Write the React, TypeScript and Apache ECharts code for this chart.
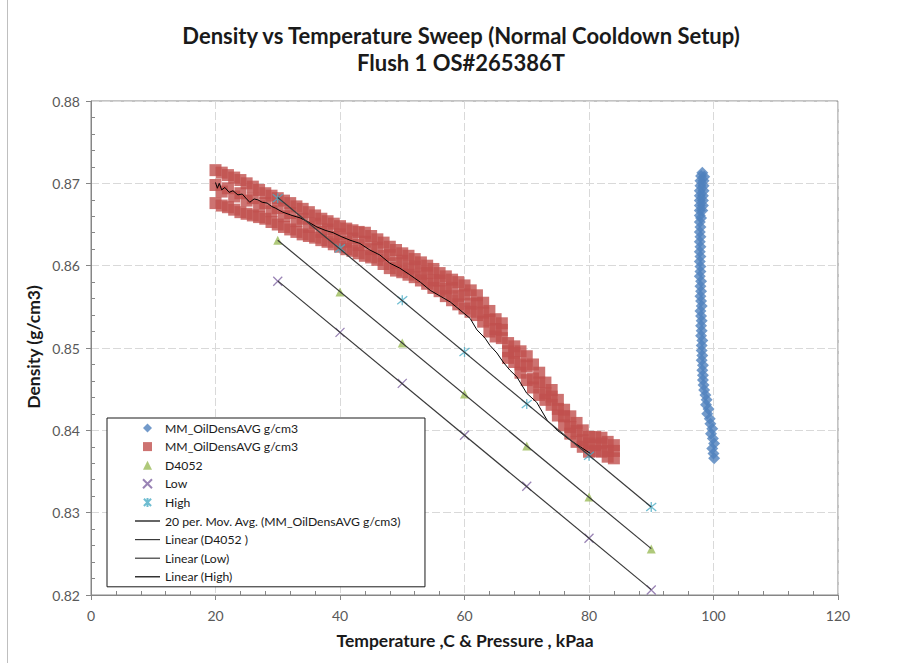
import React, { useEffect, useRef } from "react";
import * as echarts from "echarts";

// ---------- data ----------
const blueTemp = [98.2, 98.0, 98.5, 97.9, 98.4, 97.9, 98.4, 97.8, 98.4, 97.8, 98.3, 97.8, 98.3, 97.8, 98.3, 97.8, 98.2, 97.8, 98.0, 97.8,
  97.9, 97.8, 97.9, 97.8, 97.9, 97.8, 97.9, 97.8, 97.9, 97.9, 97.8, 98.0, 97.9, 98.0, 97.9, 98.0, 98.1, 97.9, 98.0, 98.1,
  98.0, 98.1, 98.0, 98.2, 98.1, 98.1, 98.2, 98.1, 98.3, 98.2, 98.3, 98.3, 98.4, 98.5, 98.7, 98.9, 98.8, 99.2, 99.0, 99.4,
  99.5, 99.8, 99.6, 99.9, 100.1, 99.8, 100.0, 100.1];
const blueDens = [0.8713, 0.8709, 0.8708, 0.8703, 0.8703, 0.8697, 0.8697, 0.8691, 0.8691, 0.8685, 0.8685, 0.8679, 0.8679, 0.8673, 0.8673, 0.8667, 0.8667, 0.8661, 0.8658, 0.8653,
  0.8647, 0.8641, 0.8635, 0.8629, 0.8623, 0.8617, 0.8611, 0.8605, 0.8599, 0.8593, 0.8587, 0.8581, 0.8575, 0.8569, 0.8563, 0.8557, 0.8551, 0.8545, 0.8539, 0.8533,
  0.8527, 0.8521, 0.8515, 0.8509, 0.8503, 0.8497, 0.8491, 0.8485, 0.8479, 0.8473, 0.8467, 0.8461, 0.8455, 0.8449, 0.8443, 0.8437, 0.8431, 0.8426, 0.8420, 0.8414,
  0.8408, 0.8402, 0.8396, 0.8390, 0.8384, 0.8378, 0.8372, 0.8366];

const redTemp = [20, 21, 22, 23, 24, 25, 26, 27, 28, 29, 30, 31, 32, 33, 34, 35, 36, 37, 38, 39, 40, 41, 42, 43, 44, 45, 46, 47, 48, 49, 50, 51, 52,
  53, 54, 55, 56, 57, 58, 59, 60, 61, 62, 63, 64, 65, 66, 67, 68, 69, 70, 71, 72, 73, 74, 75, 76, 77, 78, 79, 80, 81, 82, 83, 84];
const redTop = [0.8716, 0.8713, 0.8710, 0.8707, 0.8704, 0.8700, 0.8696, 0.8692, 0.8688, 0.8685, 0.8682, 0.8679, 0.8676, 0.8672, 0.8669, 0.8665, 0.8661,
  0.8657, 0.8654, 0.8651, 0.8648, 0.8645, 0.8643, 0.8641, 0.8640, 0.8636, 0.8632, 0.8628, 0.8623, 0.8619, 0.8615, 0.8612, 0.8608, 0.8604, 0.8600,
  0.8596, 0.8591, 0.8587, 0.8583, 0.8580, 0.8576, 0.8570, 0.8564, 0.8555, 0.8545, 0.8535, 0.8530, 0.8506, 0.8502, 0.8496, 0.8490, 0.8480, 0.8470,
  0.8458, 0.8449, 0.8437, 0.8425, 0.8417, 0.8409, 0.8400, 0.8392, 0.8392, 0.8391, 0.8386, 0.8382];
const redMid = [0.8698, 0.8690, 0.8694, 0.8684, 0.8688, 0.8679, 0.8682, 0.8672, 0.8676, 0.8666, 0.8670, 0.8660, 0.8664, 0.8654, 0.8657, 0.8647, 0.8651,
  0.8641, 0.8644, 0.8635, 0.8638, 0.8629, 0.8633, 0.8625, 0.8629, 0.8620, 0.8622, 0.8612, 0.8613, 0.8603, 0.8606, 0.8597, 0.8599, 0.8590, 0.8591,
  0.8582, 0.8582, 0.8572, 0.8573, 0.8563, 0.8565, 0.8554, 0.8554, 0.8543, 0.8534, 0.8523, 0.8522, 0.8496, 0.8494, 0.8480, 0.8478, 0.8463, 0.8458,
  0.8445, 0.8441, 0.8426, 0.8417, 0.8404, 0.8399, 0.8388, 0.8384, 0.8382, 0.8384, 0.8375, 0.8375];
const redBot = [0.8676, 0.8673, 0.8671, 0.8668, 0.8665, 0.8663, 0.8661, 0.8659, 0.8657, 0.8653, 0.8650, 0.8647, 0.8644, 0.8641, 0.8638, 0.8636, 0.8634,
  0.8631, 0.8629, 0.8626, 0.8623, 0.8620, 0.8618, 0.8615, 0.8612, 0.8610, 0.8607, 0.8602, 0.8597, 0.8594, 0.8592, 0.8589, 0.8586, 0.8582, 0.8578,
  0.8573, 0.8569, 0.8563, 0.8558, 0.8553, 0.8548, 0.8544, 0.8540, 0.8532, 0.8520, 0.8514, 0.8512, 0.8488, 0.8483, 0.8470, 0.8461, 0.8452, 0.8443,
  0.8437, 0.8431, 0.8418, 0.8406, 0.8396, 0.8386, 0.8380, 0.8374, 0.8375, 0.8374, 0.8368, 0.8366];

const maTemp = [20.0, 20.3, 20.6, 21.0, 21.5, 22.2, 22.8, 23.6, 24.3, 25.0, 25.5, 26.2, 26.8, 27.5, 28.3, 29.0, 29.6, 30.8, 32.3, 33.6, 34.9, 36.3,
  37.6, 38.9, 40.3, 41.6, 43.2, 44.8, 46.4, 48.0, 49.6, 51.2, 52.9, 54.5, 56.1, 57.7, 59.3, 60.9, 62.0, 63.3, 64.1, 65.2, 66.2, 67.3, 68.4, 69.2,
  70.0, 71.6, 73.3, 74.9, 77.0, 78.6, 80.2];
const maDens = [0.8701, 0.8694, 0.8700, 0.8692, 0.8695, 0.8689, 0.8691, 0.8686, 0.8687, 0.8681, 0.8677, 0.8681, 0.8680, 0.8677, 0.8676, 0.8672, 0.8670,
  0.8665, 0.8661, 0.8658, 0.8653, 0.8647, 0.8643, 0.8640, 0.8635, 0.8631, 0.8627, 0.8619, 0.8613, 0.8603, 0.8597, 0.8589, 0.8580, 0.8570, 0.8563,
  0.8556, 0.8546, 0.8536, 0.8522, 0.8512, 0.8503, 0.8494, 0.8483, 0.8473, 0.8465, 0.8455, 0.8445, 0.8434, 0.8412, 0.8400, 0.8388, 0.8380, 0.8372];

const refTemp = [30, 40, 50, 60, 70, 80, 90];
const d4052 = [0.8631, 0.8568, 0.8506, 0.8444, 0.8381, 0.8319, 0.8256];
const lowDens = [0.8581, 0.8519, 0.8457, 0.8394, 0.8332, 0.8269, 0.8206];
const highDens = [0.8682, 0.8621, 0.8558, 0.8495, 0.8432, 0.8369, 0.8307];

const xTicks = [0, 20, 40, 60, 80, 100, 120];
const yTicks = [0.82, 0.83, 0.84, 0.85, 0.86, 0.87, 0.88];

const legendNames = [
  "MM_OilDensAVG g/cm3",
  "MM_OilDensAVG g/cm3#2",
  "D4052",
  "Low",
  "High",
  "20 per. Mov. Avg. (MM_OilDensAVG g/cm3)",
  "Linear (D4052 )",
  "Linear (Low)",
  "Linear (High)",
];

// least-squares trendline evaluated at the ends of the data range
function trend(xs: number[], ys: number[]) {
  const n = xs.length;
  const mx = xs.reduce((a, b) => a + b, 0) / n;
  const my = ys.reduce((a, b) => a + b, 0) / n;
  let sxy = 0, sxx = 0;
  for (let i = 0; i < n; i++) { sxy += (xs[i] - mx) * (ys[i] - my); sxx += (xs[i] - mx) ** 2; }
  const b = sxy / sxx, a = my - b * mx;
  const x0 = Math.min(...xs), x1 = Math.max(...xs);
  return [[x0, a + b * x0], [x1, a + b * x1]];
}

const FONT = "Lato";
const DIAMOND = "path://M5,0L10,5L5,10L0,5Z";
const SQUARE = "path://M0,0L10,0L10,10L0,10Z";
const TRIANGLE = "path://M5,0L10,10L0,10Z";
const XMARK = "path://M0,0L10,10M10,0L0,10";
const STAR = "path://M1,1L9,9M9,1L1,9M5,0L5,10";
const LINEICON = "path://M0,0L25,0L25,1.2L0,1.2Z";

export default function App() {
  const ref = useRef<HTMLDivElement>(null);
  useEffect(() => {
    if (!ref.current) return;
    const chart = echarts.init(ref.current, undefined, { renderer: "svg" });
    const zip = (a: number[], b: number[]) => a.map((v, i) => [v, b[i]]);
    const redData: number[][] = [];
    redTemp.forEach((t, i) => { redData.push([t, redTop[i]], [t, redMid[i]], [t, redBot[i]]); });
    const lineColor = "#3a3a3a";
    const axisColor = "#868686";
    const icons = [DIAMOND, SQUARE, TRIANGLE, XMARK, STAR, LINEICON, LINEICON, LINEICON, LINEICON];
    const option: any = {
      animation: false,
      backgroundColor: "#ffffff",
      grid: { left: 91, right: 65, top: 101, bottom: 68, show: true, borderColor: axisColor, borderWidth: 1, containLabel: false },
      xAxis: [
        {
          type: "value", min: xTicks[0], max: xTicks[xTicks.length - 1], interval: 20, position: "bottom",
          axisLine: { show: true, onZero: false, lineStyle: { color: axisColor } },
          axisTick: { show: true, length: 5, lineStyle: { color: axisColor } },
          axisLabel: { color: "#595959", fontSize: 14, fontFamily: FONT, margin: 13 },
          splitLine: { show: true, lineStyle: { color: "#d9d9d9", type: [8, 3] } },
        },
        {
          type: "value", min: xTicks[0], max: xTicks[xTicks.length - 1], interval: 20, position: "bottom",
          axisLine: { show: false }, axisTick: { show: false, inside: true }, axisLabel: { show: false }, splitLine: { show: false },
          minorTick: { show: true, splitNumber: 5, length: 4, lineStyle: { color: axisColor } },
        },
      ],
      yAxis: [
        {
          type: "value", min: yTicks[0], max: yTicks[yTicks.length - 1], interval: 0.01, position: "left",
          axisLine: { show: true, onZero: false, lineStyle: { color: axisColor } },
          axisTick: { show: true, length: 5, lineStyle: { color: axisColor } },
          axisLabel: { color: "#595959", fontSize: 14, fontFamily: FONT, margin: 11, formatter: (v: number) => v.toFixed(2) },
          splitLine: { show: true, lineStyle: { color: "#d9d9d9", type: [8, 3] } },
        },
        {
          type: "value", min: yTicks[0], max: yTicks[yTicks.length - 1], interval: 0.01, position: "left",
          axisLine: { show: false }, axisTick: { show: false, inside: true }, axisLabel: { show: false }, splitLine: { show: false },
          minorTick: { show: true, splitNumber: 5, length: 4, lineStyle: { color: axisColor } },
        },
      ],
      legend: {
        orient: "vertical", left: 107, top: 418,
        padding: [3, 24, 3, 28],
        itemWidth: 25, itemHeight: 9, itemGap: 4.6,
        borderColor: "#1a1a1a", borderWidth: 1, backgroundColor: "#ffffff",
        selectedMode: false,
        textStyle: { fontFamily: FONT, fontSize: 12.2, color: "#1a1a1a", lineHeight: 14 },
        data: legendNames.map((n, i) => ({ name: n, icon: icons[i] })),
        formatter: (name: string) => name.replace("#2", ""),
      },
      graphic: [
        { type: "line", shape: { x1: 7.5, y1: 0, x2: 7.5, y2: 663 }, style: { stroke: "#bfbfbf", lineWidth: 1 } },
        { type: "text", x: 461, y: 35, style: { text: "Density vs Temperature Sweep (Normal Cooldown Setup)", font: `bold 22px ${FONT}`, fill: "#1a1a1a", textAlign: "center", textVerticalAlign: "middle" } },
        { type: "text", x: 461, y: 62, style: { text: "Flush 1 OS#265386T", font: `bold 22px ${FONT}`, fill: "#1a1a1a", textAlign: "center", textVerticalAlign: "middle" } },
        { type: "text", x: 465, y: 640, style: { text: "Temperature ,C & Pressure , kPaa", font: `bold 17.5px ${FONT}`, fill: "#1a1a1a", textAlign: "center", textVerticalAlign: "middle" } },
        { type: "text", x: 33, y: 347, rotation: Math.PI / 2, style: { text: "Density (g/cm3)", font: `bold 17.5px ${FONT}`, fill: "#1a1a1a", textAlign: "center", textVerticalAlign: "middle" } },
      ],
      series: [
        { name: legendNames[0], type: "scatter", silent: true, symbol: "diamond", symbolSize: 12, itemStyle: { color: "#4F81BD" }, data: zip(blueTemp, blueDens) },
        { name: legendNames[1], type: "scatter", silent: true, symbol: "rect", symbolSize: 12, itemStyle: { color: "#C0504D" }, data: redData },
        { name: legendNames[2], type: "scatter", silent: true, symbol: "triangle", symbolSize: 9, itemStyle: { color: "#9BBB59" }, data: zip(refTemp, d4052) },
        { name: legendNames[3], type: "scatter", silent: true, symbol: XMARK, symbolSize: 9, itemStyle: { color: "#8064A2", borderColor: "#8064A2", borderWidth: 1.3 }, data: zip(refTemp, lowDens) },
        { name: legendNames[4], type: "scatter", silent: true, symbol: STAR, symbolSize: 10, itemStyle: { color: "#4BACC6", borderColor: "#4BACC6", borderWidth: 1.3 }, data: zip(refTemp, highDens) },
        { name: legendNames[5], type: "line", silent: true, symbol: "none", itemStyle: { color: "#000000" }, lineStyle: { color: "#000000", width: 1 }, data: zip(maTemp, maDens) },
        { name: legendNames[6], type: "line", silent: true, symbol: "none", itemStyle: { color: lineColor }, lineStyle: { color: lineColor, width: 1.2 }, data: trend(refTemp, d4052) },
        { name: legendNames[7], type: "line", silent: true, symbol: "none", itemStyle: { color: lineColor }, lineStyle: { color: lineColor, width: 1.2 }, data: trend(refTemp, lowDens) },
        { name: legendNames[8], type: "line", silent: true, symbol: "none", itemStyle: { color: "#000000" }, lineStyle: { color: lineColor, width: 1.2 }, data: trend(refTemp, highDens) },
      ],
    };
    chart.setOption(option);
    return () => chart.dispose();
  }, []);
  return <div ref={ref} style={{ position: "fixed", left: 0, top: 0, width: 903, height: 663, background: "#fff" }} />;
}
